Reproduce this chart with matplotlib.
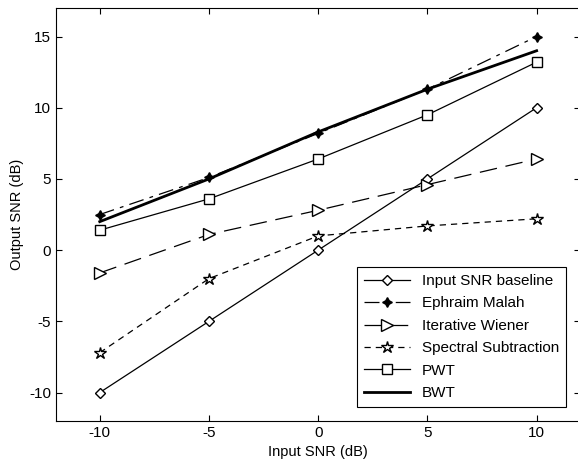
import numpy as np
import matplotlib.pyplot as plt

plt.rcParams['font.family'] = ['Liberation Sans', 'DejaVu Sans']
plt.rcParams['axes.unicode_minus'] = False

input_snr = [-10, -5, 0, 5, 10]
baseline = [-10, -5, 0, 5, 10]
ephraim_malah = [2.5, 5.1, 8.2, 11.3, 15.0]
iterative_wiener = [-1.6, 1.1, 2.8, 4.6, 6.4]
spectral_sub = [-7.2, -2.0, 1.0, 1.7, 2.2]
pwt = [1.4, 3.6, 6.4, 9.5, 13.2]
bwt = [2.0, 5.0, 8.3, 11.3, 14.0]

fig = plt.figure(figsize=(5.78, 4.72), dpi=100)
ax = fig.add_axes([0.097, 0.108, 0.907, 0.875])

k = 'black'
ax.plot(input_snr, baseline, color=k, lw=0.9, marker='D', ms=5.5, mfc='white', mec=k,
        label='Input SNR baseline')
ax.plot(input_snr, ephraim_malah, color=k, lw=0.9, dashes=(12, 5, 3, 5), marker=(4, 1, 0),
        ms=7, mfc=k, mec=k, label='Ephraim Malah')
ax.plot(input_snr, iterative_wiener, color=k, lw=0.9, dashes=(14, 7), marker='>', ms=8,
        mfc='white', mec=k, label='Iterative Wiener')
ax.plot(input_snr, spectral_sub, color=k, lw=0.9, dashes=(5, 4), marker='*', ms=9,
        mfc='white', mec=k, label='Spectral Subtraction')
ax.plot(input_snr, pwt, color=k, lw=0.9, marker='s', ms=7, mfc='white', mec=k, label='PWT')
ax.plot(input_snr, bwt, color=k, lw=2.0, label='BWT')

ax.set_xlim(-12, 12)
ax.set_ylim(-12, 17)
ax.set_xticks([-10, -5, 0, 5, 10])
ax.set_yticks([-10, -5, 0, 5, 10, 15])
ax.tick_params(direction='in', length=4, labelsize=11, top=True, right=True)
ax.set_xlabel('Input SNR (dB)', fontsize=10.5)
ax.set_ylabel('Output SNR (dB)', fontsize=10.5)

leg = ax.legend(loc='lower left', bbox_to_anchor=(0.574, 0.034), borderaxespad=0,
                fontsize=11, frameon=True, fancybox=False, edgecolor=k, framealpha=1,
                handlelength=3.0, borderpad=0.45, labelspacing=0.55)
leg.get_frame().set_linewidth(0.8)

fig.savefig('out.png', dpi=100)
